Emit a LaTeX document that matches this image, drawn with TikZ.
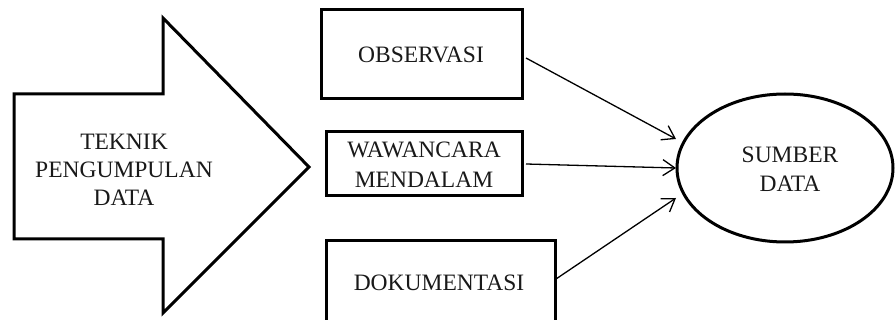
\documentclass[tikz,border=0pt]{standalone}
\usepackage{fontspec}
\setmainfont{Liberation Serif}
\usetikzlibrary{shapes.geometric,arrows.meta}
\begin{document}
\begin{tikzpicture}[x=1pt,y=-1pt,
  lbl/.style={font=\fontsize{23.5}{28}\selectfont, align=center, text=black!90},
  box/.style={draw, line width=3pt, inner sep=0pt},
  conn/.style={line width=1.3pt, -{Straight Barb[length=12pt,width=16pt]}}]
\useasboundingbox (0,0) rectangle (895,320);
% big arrow
\draw[line width=3pt, line join=miter, fill=white]
  (14,94) -- (163,94) -- (163,18) -- (309,167) -- (163,313) -- (163,239) -- (14,239) -- cycle;
\node[lbl] (tek) at (124,170) {TEKNIK\\PENGUMPULAN\\DATA};
% boxes
\node[box, minimum width=201pt, minimum height=89pt] (obs) at (421.5,54.5) {};
\node[lbl] (obst) at (421,55) {OBSERVASI};
\node[box, minimum width=196pt, minimum height=64pt] (waw) at (424,164) {};
\node[lbl, font=\fontsize{23.5}{30}\selectfont] (wawt) at (424,165) {WAWANCARA\\MENDALAM};
\node[box, minimum width=229pt, minimum height=86pt] (dok) at (440.5,284) {};
\node[lbl] (dokt) at (439,283) {DOKUMENTASI};
% ellipse
\node[draw, ellipse, line width=3pt, minimum width=216pt, minimum height=148pt, inner sep=0pt] (sum) at (785,168) {};
\node[lbl, font=\fontsize{23.5}{29}\selectfont] (sumt) at (790,169) {SUMBER\\DATA};
% connectors
\coordinate (s1) at (526,58);
\coordinate (s2) at (526,164);
\coordinate (s3) at (556,279);
\coordinate (t1) at (676,139);
\coordinate (t2) at (676,168);
\coordinate (t3) at (676,198);
\draw[conn] (s1) -- (t1);
\draw[conn] (s2) -- (t2);
\draw[conn] (s3) -- (t3);
\end{tikzpicture}
\end{document}
